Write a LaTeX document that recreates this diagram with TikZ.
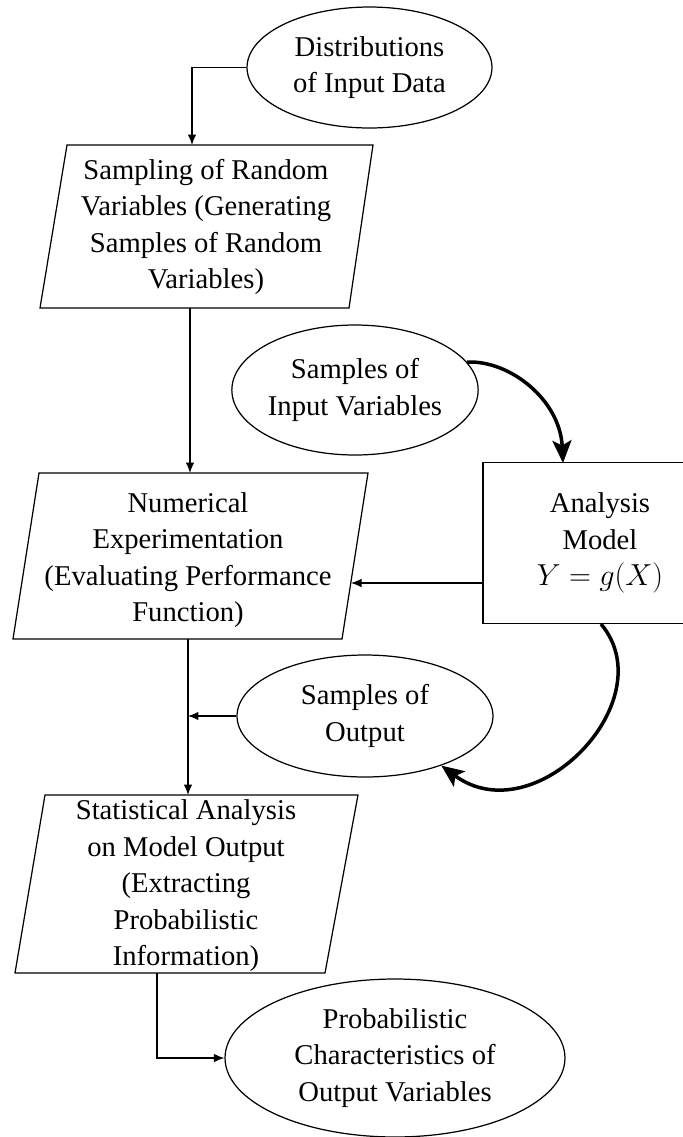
\documentclass[tikz,border=0pt]{standalone}
\usepackage{fontspec}
\setmainfont{Liberation Serif}
\usetikzlibrary{arrows.meta,shapes.geometric}
\begin{document}
\begin{tikzpicture}[x=0.02cm,y=-0.02cm,
  line width=0.7pt,
  txt/.style={align=center,font=\fontsize{16.3}{20.8}\selectfont,inner sep=0pt},
  oval/.style={ellipse,draw,txt,inner sep=0pt},
  arr/.style={-{Latex[length=0.21cm,width=0.17cm]}},
  bigarr/.style={line width=2pt,-{Stealth[length=0.45cm,width=0.38cm,inset=0.1cm]}}]
\clip (0,0) rectangle (683,1137);
% ellipses
\node[oval,minimum width=4.9cm,minimum height=2.42cm] (E1) at (369.5,67.5) {Distributions\\of Input Data};
\node[oval,minimum width=4.48cm,minimum height=2.6cm] (E2) at (355,390) {Samples of\\Input Variables};
\node[oval,minimum width=5.12cm,minimum height=2.44cm] (E3) at (365,716) {Samples of\\Output};
\node[oval,minimum width=6.8cm,minimum height=3.16cm] (E4) at (395,1058) {Probabilistic\\Characteristics of\\Output Variables};
% analysis model box (cut off at the right)
\node[draw,txt,minimum width=4.68cm,minimum height=3.22cm] (M) at (600,543) {Analysis\\Model\\$Y=g(X)$};
% parallelogram 1
\coordinate (P1a) at (67,145);
\coordinate (P1b) at (373,145);
\coordinate (P1c) at (349,308);
\coordinate (P1d) at (40,308);
\draw (P1a) -- (P1b) -- (P1c) -- (P1d) -- cycle;
\node[txt] (P1) at (206,227) {Sampling of Random\\Variables (Generating\\Samples of Random\\Variables)};
% parallelogram 2
\coordinate (P2a) at (39,473);
\coordinate (P2b) at (368,473);
\coordinate (P2c) at (342,639);
\coordinate (P2d) at (13,639);
\draw (P2a) -- (P2b) -- (P2c) -- (P2d) -- cycle;
\node[txt] (P2) at (188,560) {Numerical\\Experimentation\\(Evaluating Performance\\Function)};
% parallelogram 3
\coordinate (P3a) at (45,795);
\coordinate (P3b) at (358,795);
\coordinate (P3c) at (325,973);
\coordinate (P3d) at (15,973);
\draw (P3a) -- (P3b) -- (P3c) -- (P3d) -- cycle;
\node[txt] (P3) at (186,886) {Statistical Analysis\\on Model Output\\(Extracting\\Probabilistic\\Information)};
% connector points
\coordinate (P1top) at (192,145);
\coordinate (P1bot) at (190,308);
\coordinate (P2top) at (190,473);
\coordinate (P2bot) at (188,639);
\coordinate (P2right) at (351,583);
\coordinate (Mleft) at (483,583);
\coordinate (Min) at (563,463);
\coordinate (Mout) at (601,624);
\coordinate (Jn) at (188,716);
\coordinate (P3top) at (188,795);
\coordinate (P3bot) at (157,973);
% connectors
\draw[arr] (E1.west) -| (P1top);
\draw[arr] (P1bot) -- (P2top);
\draw[arr] (Mleft) -- (P2right);
\draw (P2bot) -- (Jn);
\draw[arr] (Jn) -- (P3top);
\draw[arr] (E3.west) -- (Jn);
\draw[arr] (P3bot) |- (E4.west);
\draw[bigarr] (E2.14) .. controls (510,360) and (560,400) .. (Min);
\draw[bigarr] (Mout) .. controls (665,700) and (535,835) .. (E3.-33);
\end{tikzpicture}
\end{document}
